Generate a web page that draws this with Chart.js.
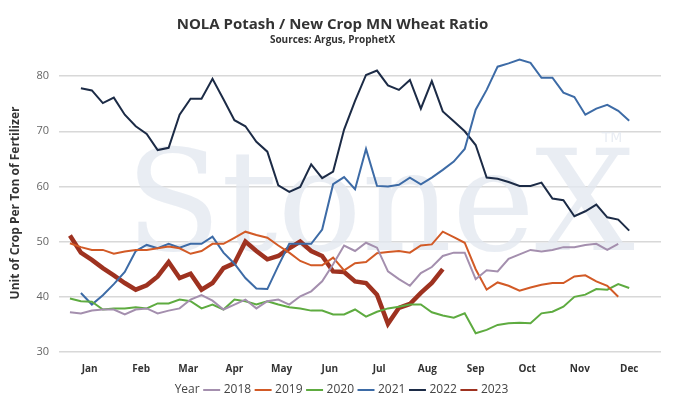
<!DOCTYPE html>
<html>
<head>
<meta charset="utf-8">
<script src="https://cdn.jsdelivr.net/npm/chart.js@4"></script>
<style>
  body { margin: 0; background: #fff; }
  #wrap { width: 681px; height: 418px; }
</style>
</head>
<body>
<div id="wrap"><canvas id="ratioChart"></canvas></div>
<script>
// week-of-year data, each series starts at its own week
const months = ['Jan', 'Feb', 'Mar', 'Apr', 'May', 'Jun', 'Jul', 'Aug', 'Sep', 'Oct', 'Nov', 'Dec'];
const monthWeeks = [2.8, 7.5, 11.8, 16, 20.3, 24.7, 29.2, 33.6, 38, 42.7, 47.5, 52];
const yTicks = [30, 40, 50, 60, 70, 80];

const start2018 = 1;
const y2018 = [37.2, 37, 37.5, 37.7, 37.7, 36.8, 37.7, 37.9, 37, 37.5, 37.9, 39.5, 40.3, 39.3, 37.7, 38.6, 39.5, 37.9, 39.2, 39.5, 38.6, 40.1, 41, 42.8, 45.9, 49.3, 48.3, 49.8, 48.9, 44.6, 43.2, 42, 44.3, 45.4, 47.4, 48, 48, 43.2, 44.8, 44.6, 46.9, 47.7, 48.5, 48.2, 48.5, 49, 49, 49.4, 49.6, 48.5, 49.6];
const start2019 = 1;
const y2019 = [49.7, 49, 48.5, 48.5, 47.8, 48.2, 48.5, 48.5, 48.8, 49.1, 48.8, 47.8, 48.3, 49.6, 49.6, 50.7, 51.8, 51.2, 50.7, 49.3, 48, 46.5, 45.7, 45.7, 47.1, 44.8, 46.1, 46.3, 47.9, 48.1, 48.3, 48, 49.3, 49.5, 51.8, 50.8, 49.8, 45, 41.3, 42.6, 42, 41.1, 41.7, 42.2, 42.5, 42.5, 43.7, 43.9, 42.8, 42, 40];
const start2020 = 1;
const y2020 = [39.7, 39.2, 39.1, 37.7, 37.9, 37.9, 38.1, 37.9, 38.8, 38.8, 39.5, 39.2, 37.9, 38.6, 37.7, 39.5, 39.2, 38.6, 39.2, 38.6, 38.1, 37.9, 37.5, 37.5, 36.8, 36.8, 37.7, 36.4, 37.3, 37.9, 38.2, 38.6, 38.6, 37.2, 36.6, 36.2, 37, 33.4, 34, 34.9, 35.2, 35.3, 35.2, 37, 37.3, 38.2, 40, 40.4, 41.4, 41.3, 42.3, 41.6];
const start2021 = 2;
const y2021 = [40.7, 38.6, 40.3, 42.3, 44.5, 48.3, 49.4, 48.8, 49.6, 48.9, 49.6, 49.6, 50.9, 48, 46, 43.4, 41.5, 41.4, 45.6, 49.6, 49.6, 49.6, 52.2, 60.4, 61.7, 59.5, 66.8, 60.1, 60, 60.3, 61.6, 60.4, 61.6, 63, 64.5, 66.8, 73.9, 77.5, 81.7, 82.3, 83, 82.4, 79.7, 79.7, 77, 76.2, 73, 74.1, 74.8, 73.7, 71.9];
const start2022 = 2;
const y2022 = [77.8, 77.4, 75.1, 76.1, 73, 70.9, 69.5, 66.6, 67, 73, 75.9, 75.9, 79.5, 75.8, 72, 70.9, 68.1, 66.3, 60.2, 59, 59.9, 64, 61.5, 62.7, 70.3, 75.5, 80.2, 81, 78.3, 77.5, 79.3, 74.1, 79.1, 73.6, 71.8, 70, 67.5, 61.6, 61.4, 60.8, 60.1, 60.1, 60.7, 57.8, 57.5, 54.6, 55.5, 56.7, 54.4, 54, 52];
const start2023 = 1;
const y2023 = [51.1, 48, 46.7, 45.2, 43.9, 42.5, 41.3, 42.1, 43.7, 46.3, 43.4, 44.2, 41.3, 42.5, 45.2, 46.1, 50, 48.3, 46.8, 47.4, 48.8, 50, 48.3, 47.4, 44.6, 44.5, 42.8, 42.5, 40.4, 35.1, 38, 38.7, 40.7, 42.5, 45];

function toPoints(startWeek, values) {
    return values.map(function(v, i) { return { x: startWeek + i, y: v }; });
}

function series(label, startWeek, values, color, width) {
    return {
        label: label,
        data: toPoints(startWeek, values),
        borderColor: color,
        backgroundColor: color,
        borderWidth: width,
        pointRadius: 0,
        tension: 0
    };
}

// faint StoneX watermark behind the lines
const watermark = {
    id: 'watermark',
    beforeDatasetsDraw: function(chart) {
        const ctx = chart.ctx;
        const area = chart.chartArea;
        ctx.save();
        ctx.fillStyle = 'rgba(228, 232, 240, 0.8)';
        ctx.font = '140px "DejaVu Serif", serif';
        ctx.textAlign = 'center';
        ctx.textBaseline = 'alphabetic';
        ctx.fillText('StoneX', (area.left + area.right) / 2 + 20, 250);
        ctx.font = '14px "DejaVu Sans", sans-serif';
        ctx.fillText('TM', 612, 142);
        ctx.restore();
    }
};

const ctx = document.getElementById('ratioChart');
new Chart(ctx, {
    type: 'line',
    data: {
        datasets: [
            series('2018', start2018, y2018, '#a48fae', 2),
            series('2019', start2019, y2019, '#d25a26', 2),
            series('2020', start2020, y2020, '#5eab40', 2),
            series('2021', start2021, y2021, '#3d6ba6', 2),
            series('2022', start2022, y2022, '#1c2b46', 2),
            series('2023', start2023, y2023, '#9e3220', 4.5)
        ]
    },
    plugins: [watermark],
    options: {
        responsive: true,
        maintainAspectRatio: false,
        animation: false,
        layout: { padding: { left: 4, right: 20, top: 6, bottom: 12 } },
        plugins: {
            title: {
                display: true,
                text: 'NOLA Potash / New Crop MN Wheat Ratio',
                color: '#333',
                font: { family: '"Open Sans", sans-serif', size: 15, weight: 'bold' },
                padding: { top: 10, bottom: 0 }
            },
            subtitle: {
                display: true,
                text: 'Sources: Argus, ProphetX',
                color: '#333',
                font: { family: '"Open Sans", sans-serif', size: 10, weight: 'bold' },
                padding: { top: 0, bottom: 8 }
            },
            legend: {
                position: 'bottom',
                labels: {
                    usePointStyle: true,
                    pointStyle: 'line',
                    boxWidth: 24,
                    padding: 6,
                    color: '#444',
                    font: { family: '"Open Sans", sans-serif', size: 12 },
                    generateLabels: function(chart) {
                        const items = Chart.defaults.plugins.legend.labels.generateLabels(chart);
                        items.forEach(function(it) { it.lineWidth = 2; });
                        items.unshift({
                            text: 'Year', fillStyle: 'rgba(0,0,0,0)', strokeStyle: 'rgba(0,0,0,0)',
                            lineWidth: 0, pointStyle: false, hidden: false, fontColor: '#444'
                        });
                        return items;
                    }
                }
            },
            tooltip: { enabled: false }
        },
        scales: {
            x: {
                type: 'linear',
                min: 0,
                max: 54.9,
                afterBuildTicks: function(axis) {
                    axis.ticks = monthWeeks.map(function(w) { return { value: w }; });
                },
                grid: { display: false },
                border: { display: false },
                ticks: {
                    autoSkip: false,
                    maxRotation: 0,
                    color: '#333',
                    font: { family: '"Open Sans", sans-serif', size: 10, weight: 'bold' },
                    callback: function(value, index) { return months[index]; }
                }
            },
            y: {
                min: 30,
                max: 84,
                afterBuildTicks: function(axis) {
                    axis.ticks = yTicks.map(function(v) { return { value: v }; });
                },
                grid: { color: '#d8d8d8', lineWidth: 1.5, drawTicks: false },
                border: { display: false },
                ticks: {
                    padding: 10,
                    color: '#666',
                    font: { family: '"Open Sans", sans-serif', size: 11 }
                },
                title: {
                    display: true,
                    text: 'Unit of Crop Per Ton of Fertilizer',
                    color: '#333',
                    font: { family: '"Open Sans", sans-serif', size: 12, weight: 'bold' }
                }
            }
        }
    }
});
</script>
</body>
</html>
